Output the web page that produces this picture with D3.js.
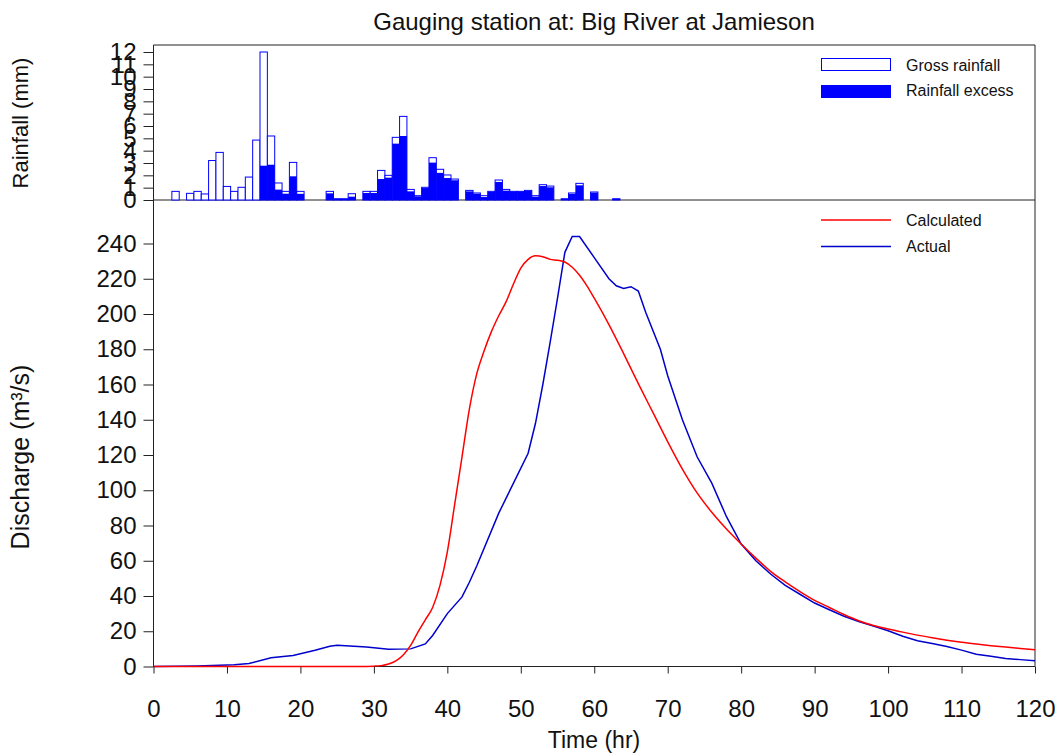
<!DOCTYPE html>
<html>
<head>
<meta charset="utf-8">
<script src="https://cdn.jsdelivr.net/npm/d3@7"></script>
<style>
  body { margin: 0; background: #fff; }
  svg text { font-family: Arial, "Liberation Sans", sans-serif; fill: #111; }
</style>
</head>
<body>
<div id="chart"></div>
<script>
// hourly rainfall (mm): hour, gross, excess
const rainHours  = [3, 5, 6, 7, 8, 9, 10, 11, 12, 13, 14, 15, 16, 17, 18, 19, 20, 24, 25, 26, 27, 29, 30, 31, 32, 33, 34, 35, 36, 37, 38, 39, 40, 41, 43, 44, 45, 46, 47, 48, 49, 50, 51, 52, 53, 54, 56, 57, 58, 60, 63];
const grossRain  = [0.7, 0.54, 0.7, 0.49, 3.2, 3.86, 1.1, 0.7, 1.03, 1.86, 4.86, 12.0, 5.19, 1.38, 0.7, 3.05, 0.7, 0.7, 0.1, 0.1, 0.51, 0.7, 0.7, 2.4, 2.0, 5.08, 6.78, 0.86, 0.35, 1.03, 3.43, 2.49, 2.03, 1.7, 0.78, 0.57, 0.35, 0.7, 1.62, 0.86, 0.7, 0.7, 0.78, 0.35, 1.24, 1.13, 0.1, 0.57, 1.35, 0.65, 0.1];
const excessRain = [0, 0, 0, 0, 0, 0, 0, 0, 0, 0, 0, 2.78, 2.86, 0.84, 0.51, 1.92, 0.5, 0.54, 0.1, 0.1, 0.27, 0.57, 0.57, 1.7, 1.81, 4.57, 5.19, 0.7, 0.3, 0.97, 3.03, 2.2, 1.78, 1.6, 0.7, 0.51, 0.24, 0.65, 1.46, 0.76, 0.68, 0.68, 0.73, 0.27, 1.13, 1.03, 0.1, 0.5, 1.19, 0.6, 0.1];

// calculated discharge (m3/s)
const calcHours = [0, 10, 20, 28, 30, 31, 32, 33, 34, 35, 36, 37, 38, 39, 40, 41, 42, 43, 44, 45, 46, 47, 48, 49, 50, 51, 52, 53, 54, 55, 56, 57, 58, 59, 60, 62, 64, 66, 68, 70, 72, 74, 76, 78, 80, 82, 84, 86, 88, 90, 92, 94, 96, 98, 100, 102, 104, 106, 108, 110, 112, 114, 116, 118, 120];
const calcFlow  = [0, 0, 0, 0, 0.2, 0.5, 1.4, 3.2, 6.5, 12, 19.5, 26.5, 33.5, 46, 65, 92, 119, 146, 166, 179, 190, 199, 207, 217, 226, 231, 233, 232.5, 231, 230.5, 229.5, 226.5, 222, 216, 209, 194, 177.5, 160.5, 144, 127.5, 112, 98.5, 87.5, 78, 69.5, 61.5, 54, 48, 42.5, 37.5, 33.5, 29.5, 26, 23.3, 21.3, 19.5, 17.8, 16.3, 14.9, 13.7, 12.7, 11.8, 11, 10.2, 9.5];

// actual discharge (m3/s)
const obsHours = [0, 6, 11, 13, 16, 19, 22, 24, 25, 29, 32, 35, 37, 38, 40, 42, 43, 44, 47, 51, 52, 53, 54, 55, 56, 57, 58, 60, 62, 63, 64, 65, 66, 67, 69, 70, 72, 74, 76, 78, 80, 82, 84, 86, 88, 90, 92, 94, 96, 98, 100, 102, 104, 106, 108, 110, 112, 114, 116, 118, 120];
const obsFlow  = [0, 0.3, 1, 1.7, 5, 6.3, 9.2, 11.5, 12, 11, 9.8, 10, 12.8, 17.6, 30, 39.5, 47.8, 57, 87, 121, 138, 160, 184, 209, 235, 244, 244, 232, 220, 216, 214.5, 215.5, 213, 201, 180, 165, 140, 119, 104, 85, 69.5, 60, 52.5, 46, 41, 36, 32.2, 28.5, 25.5, 23, 20.3, 17.2, 14.6, 13, 11.3, 9.3, 7, 5.8, 4.6, 3.9, 3.2];

const timeTicks = d3.range(0, 121, 10);
const rainTicks = d3.range(0, 13, 1);
const flowTicks = d3.range(0, 241, 20);

const width = 1058, height = 755;
const svg = d3.select('#chart').append('svg')
    .attr('width', width)
    .attr('height', height);

const x = d3.scaleLinear().domain([0, 120]).range([153.5, 1035]);
const yRain = d3.scaleLinear().domain([0, 12]).range([200, 52]);
const yFlow = d3.scaleLinear().domain([0, 240]).range([666.5, 243.5]);

const blue = '#0000ff';
const navy = '#0000cc';

// frame lines
const frame = svg.append('g').attr('stroke', '#222').attr('stroke-width', 1).attr('fill', 'none');
frame.append('path').attr('d', `M${x(0)},45H${x(120)}V${yFlow(0)}`);
frame.append('path').attr('d', `M${x(0)},${yRain(0)}H${x(120)}`);
frame.append('path').attr('d', `M${x(0)},45V${yFlow(0)}H${x(120)}`);

// rainfall bars
const rain = rainHours.map((h, i) => ({ h, gross: grossRain[i], excess: excessRain[i] }));
svg.append('g').selectAll('rect')
    .data(rain)
    .enter().append('rect')
    .attr('x', d => x(d.h - 0.5))
    .attr('width', d => x(d.h + 0.5) - x(d.h - 0.5))
    .attr('y', d => yRain(d.gross))
    .attr('height', d => yRain(0) - yRain(d.gross))
    .attr('fill', '#fff')
    .attr('stroke', blue)
    .attr('stroke-width', 1);
svg.append('g').selectAll('rect')
    .data(rain.filter(d => d.excess > 0))
    .enter().append('rect')
    .attr('x', d => x(d.h - 0.5))
    .attr('width', d => x(d.h + 0.5) - x(d.h - 0.5))
    .attr('y', d => yRain(d.excess))
    .attr('height', d => yRain(0) - yRain(d.excess))
    .attr('fill', blue);

// discharge lines
const calc = calcHours.map((h, i) => [h, calcFlow[i]]);
const obs = obsHours.map((h, i) => [h, obsFlow[i]]);
svg.append('path')
    .attr('d', d3.line().x(d => x(d[0])).y(d => yFlow(d[1])).curve(d3.curveLinear)(obs))
    .attr('fill', 'none').attr('stroke', navy).attr('stroke-width', 1.5);
svg.append('path')
    .attr('d', d3.line().x(d => x(d[0])).y(d => yFlow(d[1])).curve(d3.curveMonotoneX)(calc))
    .attr('fill', 'none').attr('stroke', '#ff0000').attr('stroke-width', 1.5);

// axes
function styleAxis(g) {
    g.select('.domain').remove();
    g.selectAll('.tick line').attr('stroke', '#222');
    g.selectAll('.tick text').style('font-size', '24px').attr('fill', '#111');
}
svg.append('g')
    .attr('transform', `translate(${x(0)},0)`)
    .call(d3.axisLeft(yRain).tickValues(rainTicks).tickSize(10).tickPadding(7))
    .call(styleAxis);
svg.append('g')
    .attr('transform', `translate(${x(0)},0)`)
    .call(d3.axisLeft(yFlow).tickValues(flowTicks).tickSize(10).tickPadding(7))
    .call(styleAxis);
svg.append('g')
    .attr('transform', `translate(0,${yFlow(0)})`)
    .call(d3.axisBottom(x).tickValues(timeTicks).tickSize(7).tickPadding(26))
    .call(styleAxis);

// titles
svg.append('text')
    .attr('x', 594).attr('y', 30)
    .attr('text-anchor', 'middle')
    .style('font-size', '24px')
    .text('Gauging station at: Big River at Jamieson');
svg.append('text')
    .attr('x', 594).attr('y', 748)
    .attr('text-anchor', 'middle')
    .style('font-size', '23px')
    .text('Time (hr)');
svg.append('text')
    .attr('transform', 'translate(28,123) rotate(-90)')
    .attr('text-anchor', 'middle')
    .style('font-size', '22px')
    .text('Rainfall (mm)');
svg.append('text')
    .attr('transform', 'translate(29,457) rotate(-90)')
    .attr('text-anchor', 'middle')
    .style('font-size', '25px')
    .text('Discharge (m³/s)');

// legends
const legTop = svg.append('g').style('font-size', '16px');
legTop.append('rect').attr('x', 821.5).attr('y', 58.5).attr('width', 69).attr('height', 12)
    .attr('fill', '#fff').attr('stroke', blue);
legTop.append('text').attr('x', 906).attr('y', 71).text('Gross rainfall');
legTop.append('rect').attr('x', 821).attr('y', 85).attr('width', 70).attr('height', 13)
    .attr('fill', blue);
legTop.append('text').attr('x', 906).attr('y', 96).text('Rainfall excess');

const legBot = svg.append('g').style('font-size', '16px');
legBot.append('line').attr('x1', 821).attr('x2', 891).attr('y1', 220).attr('y2', 220)
    .attr('stroke', '#ff0000').attr('stroke-width', 1.5);
legBot.append('text').attr('x', 906).attr('y', 226).text('Calculated');
legBot.append('line').attr('x1', 821).attr('x2', 891).attr('y1', 246.5).attr('y2', 246.5)
    .attr('stroke', navy).attr('stroke-width', 1.5);
legBot.append('text').attr('x', 906).attr('y', 252).text('Actual');
</script>
</body>
</html>
